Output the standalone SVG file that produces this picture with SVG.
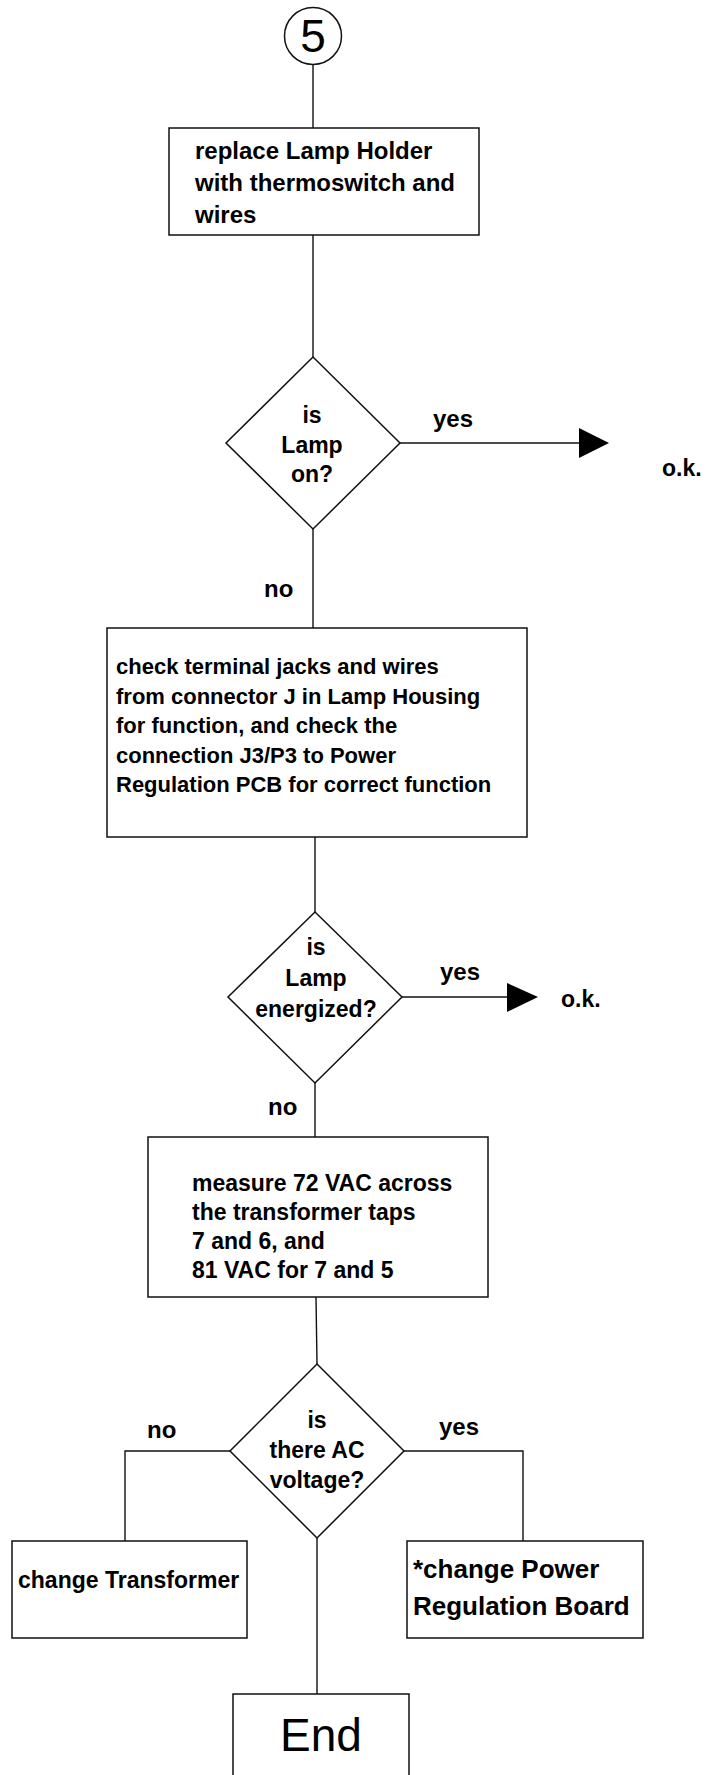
<svg xmlns="http://www.w3.org/2000/svg" width="713" height="1775" viewBox="0 0 713 1775">
<style>
  .shape { fill: #fff; stroke: #111; stroke-width: 1.5; }
  .line { fill: none; stroke: #111; stroke-width: 1.4; }
  .t { font-family: "Liberation Sans", Arial, sans-serif; font-weight: bold; fill: #000; }
  .c { text-anchor: middle; }
</style>
<rect width="713" height="1775" fill="#fff"/>
<g id="connectors">
  <line class="line" x1="313" y1="64" x2="313" y2="128"/>
  <line class="line" x1="313" y1="235" x2="313" y2="357"/>
  <line class="line" x1="400" y1="443" x2="580" y2="443"/>
  <polygon points="579,428 609,443 579,458" fill="#000"/>
  <line class="line" x1="313" y1="529" x2="313" y2="628"/>
  <line class="line" x1="315" y1="837" x2="315" y2="912"/>
  <line class="line" x1="402" y1="997" x2="508" y2="997"/>
  <polygon points="507,983 538,997 507,1012" fill="#000"/>
  <line class="line" x1="315" y1="1083" x2="315" y2="1137"/>
  <line class="line" x1="316" y1="1297" x2="317" y2="1364"/>
  <polyline class="line" points="230,1451 125,1451 125,1541"/>
  <polyline class="line" points="404,1451 523,1451 523,1541"/>
  <line class="line" x1="317" y1="1538" x2="317" y2="1694"/>
  <text class="t" x="433" y="427" font-size="24">yes</text>
  <text class="t" x="662" y="476" font-size="23">o.k.</text>
  <text class="t" x="264" y="597" font-size="24">no</text>
  <text class="t" x="440" y="980" font-size="24">yes</text>
  <text class="t" x="561" y="1007" font-size="23">o.k.</text>
  <text class="t" x="268" y="1115" font-size="24">no</text>
  <text class="t" x="147" y="1438" font-size="24">no</text>
  <text class="t" x="439" y="1435" font-size="24">yes</text>
</g>
<g id="start5">
  <circle class="shape" cx="313" cy="36" r="28.5"/>
  <text x="313" y="52" font-size="46" font-family="Liberation Sans, Arial, sans-serif" text-anchor="middle" fill="#000">5</text>
</g>
<g id="replaceHolder">
  <rect class="shape" x="169" y="128" width="310" height="107"/>
  <text class="t" x="195" y="159" font-size="24">replace Lamp Holder</text>
  <text class="t" x="195" y="191" font-size="24">with thermoswitch and</text>
  <text class="t" x="195" y="223" font-size="24">wires</text>
</g>
<g id="lampOn">
  <polygon class="shape" points="313,357 400,443 313,529 226,443"/>
  <text class="t c" x="312" y="423" font-size="23">is</text>
  <text class="t c" x="312" y="453" font-size="23">Lamp</text>
  <text class="t c" x="312" y="482" font-size="23">on?</text>
</g>
<g id="checkJacks">
  <rect class="shape" x="107" y="628" width="420" height="209"/>
  <text class="t" x="116" y="674" font-size="22">check terminal jacks and wires</text>
  <text class="t" x="116" y="703.5" font-size="22">from connector J in Lamp Housing</text>
  <text class="t" x="116" y="733" font-size="22">for function, and check the</text>
  <text class="t" x="116" y="762.5" font-size="22">connection J3/P3 to Power</text>
  <text class="t" x="116" y="792" font-size="22">Regulation PCB for correct function</text>
</g>
<g id="lampEnergized">
  <polygon class="shape" points="315,912 402,997 315,1083 228,997"/>
  <text class="t c" x="316" y="955" font-size="23">is</text>
  <text class="t c" x="316" y="986" font-size="23">Lamp</text>
  <text class="t c" x="316" y="1017" font-size="23">energized?</text>
</g>
<g id="measureVAC">
  <rect class="shape" x="148" y="1137" width="340" height="160"/>
  <text class="t" x="192" y="1191" font-size="23">measure 72 VAC across</text>
  <text class="t" x="192" y="1220" font-size="23">the transformer taps</text>
  <text class="t" x="192" y="1249" font-size="23">7 and 6, and</text>
  <text class="t" x="192" y="1278" font-size="23">81 VAC for 7 and 5</text>
</g>
<g id="acVoltage">
  <polygon class="shape" points="317,1364 404,1451 317,1538 230,1451"/>
  <text class="t c" x="317" y="1428" font-size="23">is</text>
  <text class="t c" x="317" y="1458" font-size="23">there AC</text>
  <text class="t c" x="317" y="1488" font-size="23">voltage?</text>
</g>
<g id="changeTransformer">
  <rect class="shape" x="12" y="1541" width="235" height="97"/>
  <text class="t" x="18" y="1588" font-size="23">change Transformer</text>
</g>
<g id="changeBoard">
  <rect class="shape" x="407" y="1541" width="236" height="97"/>
  <text class="t" x="413" y="1578" font-size="26">*change Power</text>
  <text class="t" x="413" y="1615" font-size="26">Regulation Board</text>
</g>
<g id="end">
  <rect class="shape" x="233" y="1694" width="176" height="100"/>
  <text x="321" y="1751" font-size="46" font-family="Liberation Sans, Arial, sans-serif" text-anchor="middle" fill="#000">End</text>
</g>
</svg>
